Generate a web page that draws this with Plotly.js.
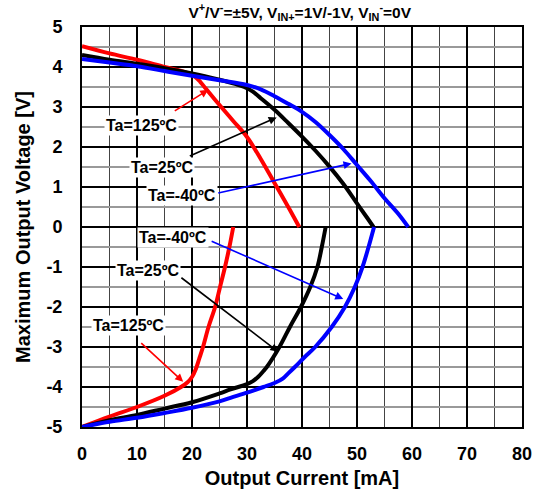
<!DOCTYPE html>
<html>
<head>
<meta charset="utf-8">
<script src="https://cdn.plot.ly/plotly-3.0.1.min.js"></script>
<style>html,body{margin:0;padding:0;background:#fff;}#chart{width:543px;height:495px;}</style>
</head>
<body>
<div id="chart"></div>
<script>
// Sourcing (positive output)
const redUpX   = [0, 5, 10, 15, 19, 20.5, 21.5, 22.5, 25, 27.5, 30, 32.5, 35, 37.5, 39.5];
const redUpY   = [4.52, 4.34, 4.18, 4.0, 3.86, 3.76, 3.63, 3.46, 3.05, 2.65, 2.25, 1.7, 1.1, 0.5, 0];
const blackUpX = [0, 5, 10, 15, 20, 25, 28, 29.5, 31, 32.5, 35, 37.5, 40, 42.5, 45, 47.5, 50, 52, 53];
const blackUpY = [4.3, 4.18, 4.08, 3.97, 3.84, 3.68, 3.57, 3.5, 3.39, 3.22, 2.93, 2.6, 2.26, 1.9, 1.51, 1.08, 0.59, 0.2, 0];
const blueUpX  = [0, 5, 10, 15, 20, 25, 30, 32.5, 35, 37.5, 40, 42.5, 45, 47.5, 50, 52.5, 55, 57.5, 59.3];
const blueUpY  = [4.2, 4.11, 4.02, 3.9, 3.78, 3.67, 3.55, 3.44, 3.27, 3.08, 2.88, 2.62, 2.3, 1.95, 1.55, 1.15, 0.72, 0.33, 0];
// Sinking (negative output)
const redDnX   = [0, 5, 10, 15, 18, 19.2, 20, 20.7, 21.3, 22, 23, 24.2, 25.1, 26, 26.8, 27.5];
const redDnY   = [-5, -4.74, -4.5, -4.22, -4.0, -3.88, -3.75, -3.55, -3.3, -3.0, -2.5, -2.0, -1.5, -1.0, -0.5, 0];
const blackDnX = [0, 5, 10, 15, 20, 25, 27, 30, 31, 32, 33, 33.6, 35.9, 37.8, 39.8, 41.5, 42.8, 43.6, 44.3];
const blackDnY = [-5, -4.83, -4.7, -4.54, -4.38, -4.16, -4.06, -3.93, -3.86, -3.75, -3.6, -3.5, -3.0, -2.5, -2.0, -1.5, -1.0, -0.5, 0];
const blueDnX  = [0, 5, 10, 15, 20, 25, 27, 30, 33, 35, 36.5, 37.5, 38.7, 40.5, 42.4, 45.4, 47.8, 49.6, 51, 52.1, 53.1];
const blueDnY  = [-5, -4.87, -4.77, -4.65, -4.52, -4.36, -4.27, -4.14, -4.0, -3.9, -3.79, -3.66, -3.5, -3.25, -3.0, -2.5, -2.0, -1.5, -1.0, -0.5, 0];

const xTicks = [0, 10, 20, 30, 40, 50, 60, 70, 80];
const yTicks = [-5, -4, -3, -2, -1, 0, 1, 2, 3, 4, 5];

// Labels: [text, x, y]
const labels = [
  ['Ta=125ºC', 10.85, 2.53],
  ['Ta=25ºC', 14.5, 1.48],
  ['Ta=-40ºC', 18.1, 0.78],
  ['Ta=-40ºC', 16.6, -0.26],
  ['Ta=25ºC', 12.05, -1.08],
  ['Ta=125ºC', 8.42, -2.45]
];
// Arrows: [tailX, tailY, tipX, tipY, color]
const arrows = [
  [16.6, 2.88, 22.96, 3.43, 'red'],
  [19.33, 1.76, 35.4, 2.74, 'black'],
  [24.5, 0.84, 49.0, 1.59, 'blue'],
  [23.3, -0.34, 47.5, -1.8, 'blue'],
  [17.8, -1.24, 35.7, -3.12, 'black'],
  [10.5, -2.87, 18.4, -3.87, 'red']
];

const FONT = 'Liberation Sans, Arial, sans-serif';
function tr(x, y, c) {
  return {x: x, y: y, type: 'scatter', mode: 'lines', showlegend: false,
    line: {color: c, width: 4, shape: 'spline', smoothing: 1}, hoverinfo: 'skip'};
}
const data = [
  tr(redUpX, redUpY, '#ff0000'), tr(blackUpX, blackUpY, '#000000'), tr(blueUpX, blueUpY, '#0000ff'),
  tr(redDnX, redDnY, '#ff0000'), tr(blackDnX, blackDnY, '#000000'), tr(blueDnX, blueDnY, '#0000ff')
];

const annotations = [];
arrows.forEach(a => annotations.push({
  x: a[2], y: a[3], ax: a[0], ay: a[1], xref: 'x', yref: 'y', axref: 'x', ayref: 'y',
  text: '', showarrow: true, arrowhead: 2, arrowsize: 1, arrowwidth: 1.6, arrowcolor: a[4]
}));
labels.forEach(l => annotations.push({
  x: l[1], y: l[2], xref: 'x', yref: 'y', text: l[0], showarrow: false,
  bgcolor: '#ffffff', borderpad: 1,
  font: {family: FONT, size: 16, color: '#000', weight: 'bold'}
}));

const layout = {
  width: 543, height: 495,
  margin: {l: 82, r: 21, t: 27, b: 68, pad: 0},
  paper_bgcolor: '#fff', plot_bgcolor: '#fff',
  font: {family: FONT, color: '#000'},
  title: {
    text: 'V<sup>+</sup>/V<sup>-</sup>=±5V, V<sub>IN+</sub>=1V/-1V, V<sub>IN</sub><sup>-</sup>=0V',
    font: {family: FONT, size: 15.5, color: '#000', weight: 'bold'},
    x: 0.552, xanchor: 'center', y: 0.975, yanchor: 'middle'
  },
  xaxis: {
    range: [0, 80], tickvals: xTicks, ticktext: xTicks.map(String),
    showgrid: true, gridcolor: '#000', gridwidth: 1.3,
    minor: {dtick: 5, tick0: 0, showgrid: true, gridcolor: '#444', gridwidth: 1},
    showline: true, mirror: true, linecolor: '#000', linewidth: 2,
    zeroline: false, ticks: '', ticklabelstandoff: 9,
    tickfont: {family: FONT, size: 18, color: '#000', weight: 'bold'},
    title: {text: 'Output Current [mA]', standoff: 8,
      font: {family: FONT, size: 20, color: '#000', weight: 'bold'}},
    fixedrange: true
  },
  yaxis: {
    range: [-5, 5], tickvals: yTicks, ticktext: yTicks.map(String),
    showgrid: true, gridcolor: '#000', gridwidth: 1.3,
    minor: {dtick: 0.5, tick0: 0, showgrid: true, gridcolor: '#999', gridwidth: 1.5},
    showline: true, mirror: true, linecolor: '#000', linewidth: 2,
    zeroline: true, zerolinecolor: '#000', zerolinewidth: 2.5,
    ticks: '', ticklabelstandoff: 14,
    tickfont: {family: FONT, size: 18, color: '#000', weight: 'bold'},
    title: {text: 'Maximum Output Voltage [V]', standoff: 10,
      font: {family: FONT, size: 20, color: '#000', weight: 'bold'}},
    fixedrange: true
  },
  annotations: annotations
};

Plotly.newPlot('chart', data, layout, {displayModeBar: false, staticPlot: true});
</script>
</body>
</html>
